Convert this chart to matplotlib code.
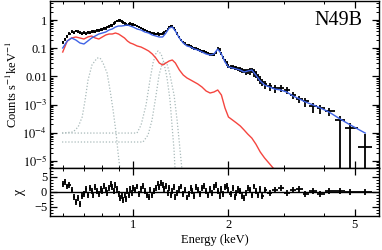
import matplotlib
matplotlib.use("Agg")
import matplotlib.pyplot as plt
import numpy as np
from matplotlib.ticker import FixedLocator, NullFormatter, MultipleLocator

plt.rcParams["font.family"] = ["Liberation Serif", "DejaVu Serif"]
plt.rcParams["mathtext.fontset"] = "stix"

# spectrum bins (keV) and measured counts s^-1 keV^-1
energy = [0.60, 0.61, 0.62, 0.63, 0.64, 0.65, 0.66, 0.67, 0.68, 0.69,
          0.70, 0.71, 0.72, 0.73, 0.74, 0.75, 0.76, 0.77, 0.78, 0.79,
          0.80, 0.81, 0.82, 0.83, 0.84, 0.85, 0.86, 0.87, 0.88, 0.89,
          0.90, 0.91, 0.92, 0.93, 0.94, 0.95, 0.96, 0.97, 0.98, 0.99, 1.00,
          1.015, 1.03, 1.045, 1.06, 1.075, 1.09, 1.105, 1.12, 1.135, 1.15,
          1.165, 1.18, 1.195, 1.21, 1.225, 1.24, 1.255, 1.27, 1.285, 1.30,
          1.315, 1.33, 1.345, 1.36, 1.38, 1.40, 1.42, 1.44, 1.46, 1.48,
          1.50, 1.52, 1.54, 1.56, 1.58, 1.60, 1.625, 1.65, 1.675, 1.70,
          1.725, 1.75, 1.775, 1.80, 1.825, 1.85, 1.875, 1.90, 1.925, 1.95,
          1.975, 2.00, 2.03, 2.06, 2.09, 2.12, 2.15, 2.18, 2.21, 2.24,
          2.27, 2.30, 2.335, 2.37, 2.405, 2.44, 2.48, 2.52, 2.56, 2.60,
          2.70, 2.80, 2.92, 3.05, 3.20, 3.35, 3.50, 3.70, 3.90, 4.15,
          4.50, 4.85, 5.40]
counts = [0.16, 0.21, 0.27, 0.33, 0.38, 0.36, 0.41, 0.38, 0.35, 0.33,
          0.35, 0.33, 0.37, 0.35, 0.38, 0.40, 0.39, 0.43, 0.44, 0.46,
          0.47, 0.50, 0.52, 0.57, 0.60, 0.66, 0.66, 0.74, 0.84, 0.93,
          0.98, 1.00, 0.91, 0.84, 0.78, 0.70, 0.67, 0.70, 0.73, 0.71, 0.70,
          0.66, 0.62, 0.57, 0.53, 0.47, 0.45, 0.40, 0.38, 0.36, 0.35,
          0.33, 0.32, 0.33, 0.31, 0.32, 0.33, 0.36, 0.41, 0.49, 0.56,
          0.61, 0.60, 0.52, 0.44, 0.33, 0.25, 0.20, 0.165, 0.145, 0.13,
          0.125, 0.118, 0.108, 0.102, 0.097, 0.094, 0.085, 0.080, 0.077, 0.073,
          0.066, 0.062, 0.060, 0.058, 0.072, 0.095, 0.088, 0.066, 0.048, 0.037,
          0.029, 0.024, 0.022, 0.0215, 0.020, 0.0198, 0.019, 0.018, 0.0165, 0.0155,
          0.0150, 0.0158, 0.0165, 0.0170, 0.0150, 0.0130, 0.0100, 0.0081, 0.0065, 0.0054,
          0.00457, 0.00388, 0.00388, 0.0033, 0.00219, 0.00158, 0.00134, 0.00089, 0.00076, 0.00059,
          0.000284, 0.000148, 3.2e-5]
rel_err_lo = ([0.12] * 41 + [0.10] * 30 + [0.12] * 20 + [0.18] * 10
              + [0.25, 0.20, 0.30, 0.25, 0.35, 0.30, 0.30, 0.35, 0.30, 0.35]
              + [0.35, 0.35, 0.30, 0.30, 0.30, 0.30, 0.40, 0.45, 0.40, 0.35, 0.99, 0.99, 0.99])
rel_err_hi = ([0.12] * 41 + [0.10] * 30 + [0.12] * 20 + [0.18] * 10
              + [0.20, 0.18, 0.22, 0.20, 0.25, 0.22, 0.22, 0.25, 0.25, 0.25]
              + [0.30, 0.30, 0.25, 0.25, 0.25, 0.25, 0.30, 0.30, 0.30, 0.30, 0.35, 0.50, 1.8])

# residuals (chi) per bin
chi = [2.6, 3.2, 1.8, 2.4, 0.6, -1.8, -3.5, -2.2, -4.0, -1.4,
       -0.6, 0.8, -1.2, 1.4, 0.2, -0.9, 1.6, 0.4, -0.8, 1.1,
       0.3, 1.9, 0.7, -0.5, 1.2, 2.6, 1.5, 0.2, 2.2, 0.9,
       -0.7, -2.1, -1.3, -2.8, -0.9, -2.4, 0.3, -1.1, 0.8, -0.4, 1.2,
       0.5, 1.8, -0.6, 1.1, 2.1, 0.4, -0.9, -1.7, 0.6, -1.2,
       0.3, 1.4, 2.8, 1.6, 3.1, 2.2, 0.8, 1.9, -0.4, 1.3,
       -1.0, 0.4, 1.7, -1.6, -0.5, 0.9, 1.8, -0.8, 0.6, -1.9,
       -0.6, 1.2, 0.3, -1.3, 1.6, 0.5, -0.7, 1.4, 2.0, 0.2,
       -1.2, 0.8, -0.3, 1.7, 2.2, 0.4, -1.5, 0.9, -0.6, 1.5,
       2.0, 0.7, -0.8, 1.3, -1.6, -0.4, 1.1, 0.3, -1.4, -2.0,
       -0.5, 1.4, 0.6, -1.1, 1.8, 0.2, -0.9, 1.0, -1.3, 0.5,
       -0.4, 0.6, 1.2, -0.3, 0.5, 0.9, -0.6, 0.2, -0.8, 0.4,
       0.2, 0.1, -0.1]

# model grid: total model (blue) and one component (red)
model_energy = [0.60, 0.62, 0.64, 0.66, 0.68, 0.70, 0.72, 0.74, 0.76, 0.78,
                0.80, 0.82, 0.84, 0.86, 0.88, 0.90, 0.92, 0.94, 0.96, 0.98,
                1.00, 1.03, 1.06, 1.09, 1.12, 1.15, 1.18, 1.21, 1.24, 1.27,
                1.30, 1.33, 1.36, 1.40, 1.44, 1.48, 1.52, 1.56, 1.60, 1.65,
                1.70, 1.75, 1.80, 1.85, 1.90, 1.95, 2.00, 2.06, 2.12, 2.18,
                2.24, 2.30, 2.37, 2.44, 2.52, 2.60, 2.70, 2.80, 2.92, 3.05,
                3.20, 3.35, 3.50, 3.70, 3.90, 4.15, 4.50, 4.85, 5.40]
model_total = [0.102, 0.18, 0.23, 0.195, 0.153, 0.141, 0.18, 0.23, 0.271, 0.319,
               0.346, 0.375, 0.442, 0.48, 0.565, 0.613, 0.613, 0.638, 0.665, 0.613,
               0.565, 0.48, 0.442, 0.375, 0.346, 0.294, 0.271, 0.25, 0.25, 0.346,
               0.52, 0.565, 0.407, 0.23, 0.153, 0.12, 0.11, 0.094, 0.0863, 0.0733,
               0.0623, 0.0574, 0.0623, 0.094, 0.0623, 0.0324, 0.0216, 0.0199, 0.0183, 0.0169,
               0.0143, 0.0155, 0.0169, 0.0112, 0.00687, 0.00495, 0.0042, 0.00357, 0.0033, 0.0028,
               0.00202, 0.00158, 0.00124, 0.00097, 0.00076, 0.000547, 0.000309, 0.000189, 9.8e-5]
model_comp = [0.0733, 0.18, 0.23, 0.25, 0.23, 0.212, 0.25, 0.271, 0.23, 0.212,
              0.25, 0.294, 0.319, 0.319, 0.346, 0.319, 0.271, 0.23, 0.18, 0.153,
              0.141, 0.12, 0.11, 0.094, 0.0796, 0.0623, 0.0449, 0.0299, 0.0254, 0.0299,
              0.0352, 0.0382, 0.0299, 0.0169, 0.0112, 0.00878, 0.00745, 0.00633, 0.0054, 0.0042,
              0.00304, 0.00258, 0.0028, 0.0033, 0.00219, 0.00076, 0.000363, 0.000284, 0.000223, 0.000174,
              0.000126, 9.06e-5, 6.5e-5, 4.0e-5, 2.08e-5, 1.28e-5, 7.8e-6, 4.8e-6, 3.0e-6, 2.0e-6,
              np.nan, np.nan, np.nan, np.nan, np.nan, np.nan, np.nan, np.nan, np.nan]

# gaussian line components (grey dotted)
line_a_e = [0.597, 0.647, 0.671, 0.691, 0.706, 0.721, 0.742, 0.770, 0.787, 0.804,
            0.828, 0.846, 0.865, 0.884, 0.897, 0.910]
line_a_f = [9.8e-5, 1.07e-4, 1.61e-4, 3.63e-4, 1.46e-3, 7.45e-3, 0.0254, 0.0449, 0.0449, 0.0299,
            0.0132, 0.0033, 6.4e-4, 9.8e-5, 1.92e-5, 4.8e-6]
line_b_e = [0.597, 1.029, 1.060, 1.099, 1.131, 1.156, 1.182, 1.199, 1.226, 1.252,
            1.280, 1.308, 1.327, 1.347, 1.357]
line_b_f = [9.8e-5, 9.8e-5, 1.89e-4, 9.7e-4, 7.45e-3, 0.0299, 0.0676, 0.0796, 0.0623, 0.0299,
            8.8e-3, 1.46e-3, 1.89e-4, 2.46e-5, 4.8e-6]
line_c_e = [0.597, 1.075, 1.115, 1.148, 1.182, 1.208, 1.234, 1.252, 1.280, 1.308,
            1.347, 1.377, 1.397, 1.417, 1.427]
line_c_f = [4.72e-5, 4.72e-5, 8.36e-5, 2.84e-4, 2.19e-3, 0.0112, 0.0275, 0.0324, 0.0275, 0.0112,
            2.19e-3, 2.84e-4, 5.55e-5, 1.08e-5, 4.8e-6]

energy = np.array(energy)
counts = np.array(counts)
edges = np.concatenate([[energy[0] - (energy[1] - energy[0]) / 2],
                        (energy[1:] + energy[:-1]) / 2,
                        [energy[-1] + (energy[-1] - energy[-2]) / 2]])
xerr = [energy - edges[:-1], edges[1:] - energy]
yerr = [counts * np.array(rel_err_lo), counts * np.array(rel_err_hi)]

fig = plt.figure(figsize=(3.82, 2.5), dpi=100)
ax = fig.add_axes([50 / 382, 1 - 168 / 250, 329 / 382, 167 / 250])
rax = fig.add_axes([50 / 382, 1 - 216 / 250, 329 / 382, 48 / 250], sharex=ax)

grey = "#a9baba"
for e, f in [(line_a_e, line_a_f), (line_b_e, line_b_f), (line_c_e, line_c_f)]:
    ax.plot(e, f, ls=(0, (1, 1.5)), color=grey, lw=0.9)
ax.plot(model_energy, model_comp, color="#f5453f", lw=1.0)
ax.errorbar(energy, counts, xerr=xerr, yerr=yerr, fmt="none", ecolor="black", elinewidth=1.3)
ax.plot(model_energy, model_total, color="#3f63e6", lw=1.0)

ax.set_xscale("log")
ax.set_yscale("log")
ax.set_xlim(0.547, 5.97)
ax.set_ylim(5.65e-6, 4.72)
ax.set_yticks([1, 0.1, 0.01, 1e-3, 1e-4, 1e-5])
ax.set_yticklabels(["1", "0.1", "0.01", r"$10^{-3}$", r"$10^{-4}$", r"$10^{-5}$"])
ax.yaxis.set_minor_locator(FixedLocator(
    [m * 10.0 ** k for k in range(-6, 1) for m in range(2, 10)]))
ax.yaxis.set_minor_formatter(NullFormatter())
ax.set_ylabel(r"Counts s$^{-1}$keV$^{-1}$", fontsize=9, labelpad=2)
ax.text(0.95, 0.885, "N49B", transform=ax.transAxes, ha="right", va="center", fontsize=14.5)

rax.errorbar(energy, chi, xerr=xerr, yerr=1.0, fmt="none", ecolor="black", elinewidth=1.3)
rax.axhline(0, color="black", lw=1.0)
rax.set_ylim(-8.1, 8.0)
rax.set_yticks([-5, 0, 5])
rax.set_yticklabels(["\u22125", "0", "5"])
rax.yaxis.set_minor_locator(MultipleLocator(1))
rax.set_ylabel("\u03c7", fontsize=10, labelpad=6)
rax.set_xlabel("Energy (keV)", fontsize=9, labelpad=2)

major = [1, 2, 5]
minor = [0.6, 0.7, 0.8, 0.9, 3, 4]
for a in (ax, rax):
    a.xaxis.set_major_locator(FixedLocator(major))
    a.xaxis.set_minor_locator(FixedLocator(minor))
    a.xaxis.set_minor_formatter(NullFormatter())
    a.tick_params(which="both", direction="in", top=True, right=True, labelsize=9, pad=2)
    a.tick_params(which="major", length=5, width=0.9)
    a.tick_params(which="minor", length=2.5, width=0.7)
    for s in a.spines.values():
        s.set_linewidth(1.0)
rax.set_xticklabels(["1", "2", "5"])
plt.setp(ax.get_xticklabels(), visible=False)

fig.savefig("out.png", dpi=100)
